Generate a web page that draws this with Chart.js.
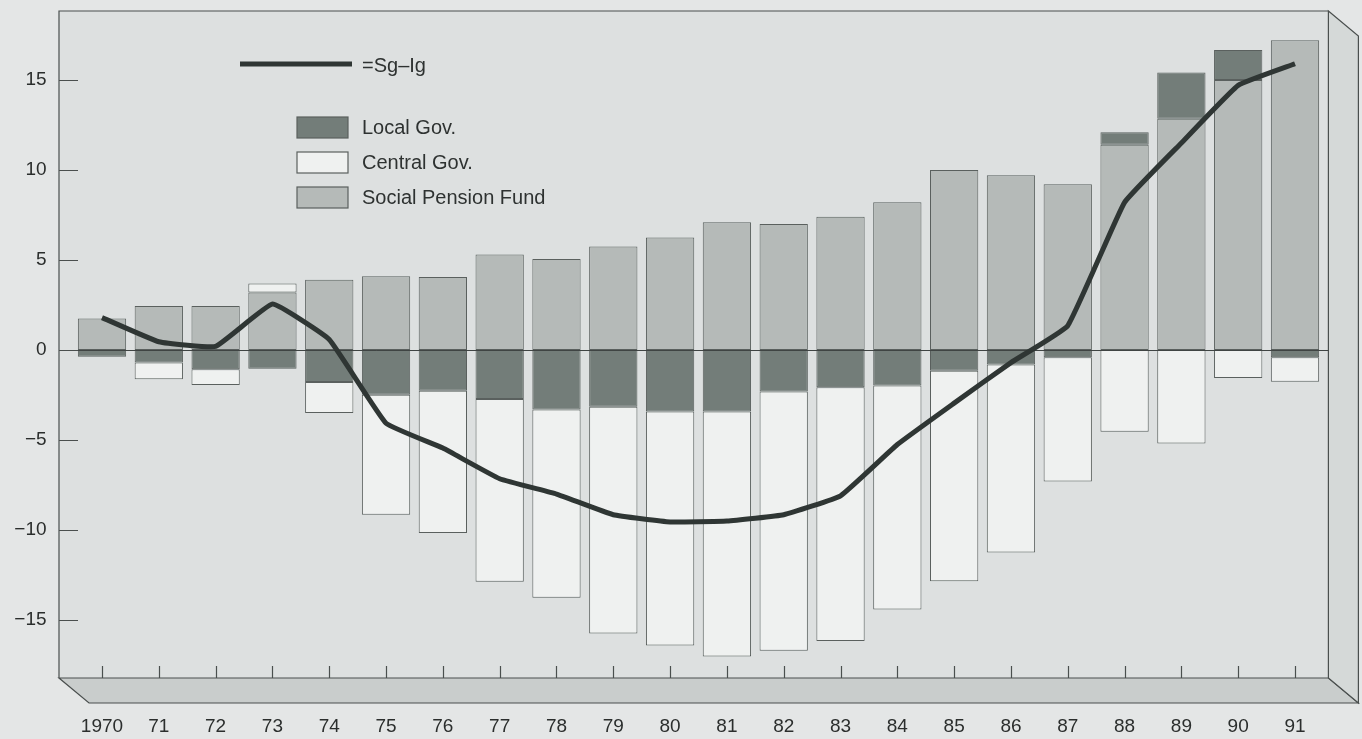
<!DOCTYPE html>
<html lang="en">
<head>
    <meta charset="UTF-8">
    <script src="https://cdn.jsdelivr.net/npm/chart.js"></script>
    <title>Sg-Ig</title>
    <style>
        body { margin: 0; background: #e4e6e6; }
        #wrap { width: 1362px; height: 739px; }
    </style>
</head>
<body>
    <div id="wrap">
        <canvas id="myChart" width="1362" height="739"></canvas>
    </div>
    <script>
        const years = ['1970', '71', '72', '73', '74', '75', '76', '77', '78', '79', '80',
                       '81', '82', '83', '84', '85', '86', '87', '88', '89', '90', '91'];

        // Sg-Ig line
        const balance = [1.8, 0.46, 0.2, 2.55, 0.58, -4.07, -5.45, -7.15, -8.0, -9.15, -9.55,
                         -9.5, -9.15, -8.1, -5.25, -2.95, -0.7, 1.35, 8.2, 11.5, 14.7, 15.9];

        const pension = [1.75, 2.45, 2.45, 3.2, 3.9, 4.1, 4.05, 5.3, 5.05, 5.75, 6.25,
                         7.1, 7.0, 7.4, 8.2, 10.0, 9.7, 9.2, 11.4, 12.85, 15.0, 17.2];
        const localGov = [-0.37, -0.7, -1.07, -1.04, -1.78, -2.48, -2.26, -2.72, -3.3, -3.15, -3.42,
                          -3.42, -2.3, -2.07, -1.97, -1.15, -0.8, -0.41, 0.7, 2.56, 1.67, -0.41];
        const centralGov = [0, -0.93, -0.87, 0.5, -1.72, -6.67, -7.9, -10.15, -10.46, -12.6, -13.0,
                            -13.6, -14.4, -14.1, -12.45, -11.7, -10.45, -6.9, -4.54, -5.2, -1.56, -1.35];

        const yTicks = [-15, -10, -5, 0, 5, 10, 15];

        const cLine = '#2f3634';
        const cLocal = '#737d79';
        const cCentral = '#eff1f0';
        const cPension = '#b5bab8';
        const cEdge = '#5a605e';
        const font = "'Liberation Sans', Arial, sans-serif";

        // draws the box, the 3d floor and wall, tick marks, zero line and the legend
        const decor = {
            id: 'decor',
            beforeDraw(chart) {
                const { ctx, chartArea: a } = chart;
                const L = a.left - 14.6, R = a.right + 5, T = a.top, B = a.bottom;
                const dx = 30, dy = 25;
                ctx.save();
                ctx.fillStyle = '#e4e6e6';
                ctx.fillRect(0, 0, chart.width, chart.height);
                ctx.fillStyle = '#dde0e0';
                ctx.fillRect(L, T, R - L, B - T);
                ctx.strokeStyle = '#4a4f4e';
                ctx.lineWidth = 1.2;
                // floor
                ctx.fillStyle = '#c9cdcc';
                ctx.beginPath();
                ctx.moveTo(L, B); ctx.lineTo(R, B); ctx.lineTo(R + dx, B + dy); ctx.lineTo(L + dx, B + dy);
                ctx.closePath(); ctx.fill(); ctx.stroke();
                // right wall
                ctx.fillStyle = '#d5d9d8';
                ctx.beginPath();
                ctx.moveTo(R, T); ctx.lineTo(R + dx, T + dy); ctx.lineTo(R + dx, B + dy); ctx.lineTo(R, B);
                ctx.closePath(); ctx.fill(); ctx.stroke();
                // box left and top
                ctx.beginPath();
                ctx.moveTo(L, B); ctx.lineTo(L, T); ctx.lineTo(R, T);
                ctx.stroke();
                ctx.restore();
            },
            beforeDatasetDraw(chart, args) {
                if (args.index !== 0) return;
                const { ctx, chartArea: a, scales } = chart;
                const y0 = Math.round(scales.y.getPixelForValue(0)) + 0.5;
                ctx.save();
                ctx.strokeStyle = '#3f4443';
                ctx.lineWidth = 1;
                ctx.beginPath();
                ctx.moveTo(a.left - 14.6, y0); ctx.lineTo(a.right + 5, y0);
                ctx.stroke();
                ctx.restore();
            },
            afterDraw(chart) {
                const { ctx, chartArea: a, scales } = chart;
                const L = a.left - 14.6;
                ctx.save();
                ctx.strokeStyle = '#4a4f4e';
                ctx.lineWidth = 1.2;
                ctx.beginPath();
                yTicks.forEach(v => {
                    const y = Math.round(scales.y.getPixelForValue(v)) + 0.5;
                    ctx.moveTo(L, y); ctx.lineTo(L + 19, y);
                });
                years.forEach((_, i) => {
                    const x = Math.round(scales.x.getPixelForValue(i)) + 0.5;
                    ctx.moveTo(x, a.bottom); ctx.lineTo(x, a.bottom - 12);
                });
                ctx.stroke();

                // legend
                ctx.font = '20px ' + font;
                ctx.fillStyle = '#2e3231';
                ctx.textBaseline = 'middle';
                ctx.strokeStyle = cLine;
                ctx.lineWidth = 5;
                ctx.beginPath();
                ctx.moveTo(240, 64); ctx.lineTo(352, 64);
                ctx.stroke();
                ctx.fillText(chart.data.datasets[0].label, 362, 66);
                const items = [[2, 117], [3, 152], [1, 187]];
                ctx.lineWidth = 1.2;
                ctx.strokeStyle = cEdge;
                items.forEach(([di, y]) => {
                    const ds = chart.data.datasets[di];
                    ctx.fillStyle = ds.backgroundColor;
                    ctx.fillRect(297, y, 51, 21);
                    ctx.strokeRect(297, y, 51, 21);
                    ctx.fillStyle = '#2e3231';
                    ctx.fillText(ds.label, 362, y + 11);
                });
                ctx.restore();
            }
        };

        const barStyle = {
            type: 'bar',
            stack: 'gov',
            borderColor: cEdge,
            borderWidth: 1,
            borderSkipped: false,
            categoryPercentage: 1,
            barPercentage: 0.85
        };

        const ctx = document.getElementById('myChart');
        new Chart(ctx, {
            type: 'bar',
            data: {
                labels: years,
                datasets: [
                    {
                        type: 'line',
                        label: '=Sg\u2013Ig',
                        data: balance,
                        stack: 'line',
                        borderColor: cLine,
                        borderWidth: 5,
                        pointRadius: 0,
                        tension: 0.1,
                        borderJoinStyle: 'round'
                    },
                    { ...barStyle, label: 'Social Pension Fund', data: pension, backgroundColor: cPension },
                    { ...barStyle, label: 'Local Gov.', data: localGov, backgroundColor: cLocal },
                    { ...barStyle, label: 'Central Gov.', data: centralGov, backgroundColor: cCentral }
                ]
            },
            options: {
                responsive: false,
                animation: false,
                devicePixelRatio: 1,
                layout: { padding: { top: 11, right: 38.6, left: 0, bottom: 0 } },
                plugins: {
                    legend: { display: false },
                    tooltip: { enabled: false }
                },
                scales: {
                    x: {
                        stacked: true,
                        offset: true,
                        grid: { display: false, drawTicks: false },
                        border: { display: false },
                        ticks: {
                            padding: 37,
                            maxRotation: 0,
                            autoSkip: false,
                            color: '#2b2e2d',
                            font: { family: font, size: 19 }
                        },
                        afterFit: s => { s.height = 61; s.paddingLeft = 0; s.paddingRight = 0; }
                    },
                    y: {
                        stacked: true,
                        min: -18.22,
                        max: 18.83,
                        grid: { display: false, drawTicks: false },
                        border: { display: false },
                        afterBuildTicks: s => { s.ticks = yTicks.map(v => ({ value: v })); },
                        ticks: {
                            padding: 27,
                            color: '#2b2e2d',
                            font: { family: font, size: 19 },
                            callback: v => (v < 0 ? '\u2212' + Math.abs(v) : String(v))
                        },
                        afterFit: s => { s.width = 73.6; s.paddingTop = 0; s.paddingBottom = 0; }
                    }
                }
            },
            plugins: [decor]
        });
    </script>
</body>
</html>
